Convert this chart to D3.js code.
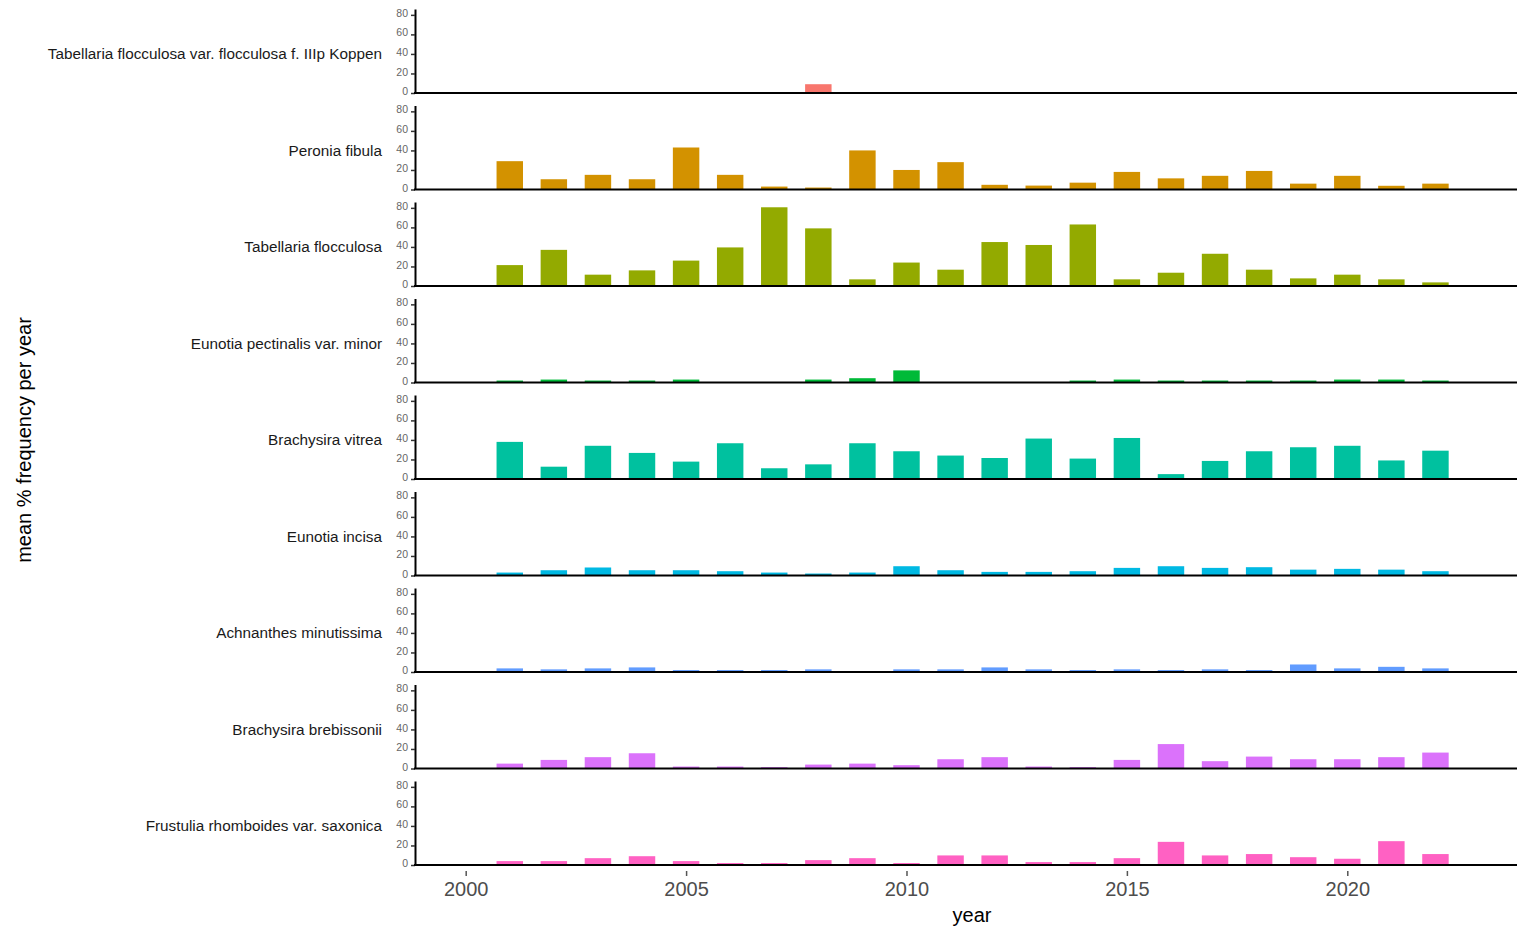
<!DOCTYPE html>
<html>
<head>
<meta charset="utf-8">
<script src="https://cdn.jsdelivr.net/npm/d3@7"></script>
<style>
  body { margin: 0; background: #fff; }
  svg { font-family: Arial, "Liberation Sans", sans-serif; }
  .panel .domain { stroke: #000; stroke-width: 2; }
  .panel .tick line { stroke: #333; stroke-width: 1.5; }
  .panel .tick text { fill: #666; font-size: 10.5px; }
  .x-axis .tick line { stroke: #555; stroke-width: 1.5; }
  .x-axis .tick text { fill: #4d4d4d; font-size: 20px; }
</style>
</head>
<body>
<div id="chart"></div>
<script>
const width = 1517;
const height = 928;

// categories
const years = [2001, 2002, 2003, 2004, 2005, 2006, 2007, 2008, 2009, 2010, 2011,
               2012, 2013, 2014, 2015, 2016, 2017, 2018, 2019, 2020, 2021, 2022];

const species = [
  'Tabellaria flocculosa var. flocculosa f. IIIp Koppen',
  'Peronia fibula',
  'Tabellaria flocculosa',
  'Eunotia pectinalis var. minor',
  'Brachysira vitrea',
  'Eunotia incisa',
  'Achnanthes minutissima',
  'Brachysira brebissonii',
  'Frustulia rhomboides var. saxonica'
];

const colors = ['#F8766D', '#D39200', '#93AA00', '#00BA38', '#00C19F',
                '#00B9E3', '#619CFF', '#DB72FB', '#FF61C3'];

// mean % frequency per year, one value per entry of `years` (null = no bar)
const tabellariaKoppen = [null, null, null, null, null, null, null, 9, null, null, null,
                          null, null, null, null, null, null, null, null, null, null, null];
const peroniaFibula = [29, 10.5, 15, 10.5, 43, 15, 3, 2, 40, 20, 28,
                       4.8, 4, 7, 18, 11.4, 14, 19, 6, 14, 3.8, 6];
const tabellariaFlocculosa = [21.4, 37, 11.6, 16, 26, 39.5, 80.6, 59, 6.8, 24, 16.7,
                              45, 42, 63, 6.8, 13.6, 33, 16.7, 7.8, 11.6, 6.8, 3.7];
const eunotiaPectinalis = [2, 3, 2, 2, 3, null, null, 3, 4.4, 12.4, null,
                           null, null, 2, 3, 2, 2, 2, 2, 3, 3, 2];
const brachysiraVitrea = [38, 12.6, 34, 26.7, 17.8, 36.6, 11, 15, 36.6, 28.4, 24,
                          21.5, 41.4, 20.9, 42, 5, 18.5, 28.4, 32.5, 34, 19, 29];
const eunotiaIncisa = [3, 5.4, 8.2, 5.4, 5.4, 4.4, 3, 2, 3, 9.5, 5.4,
                       3.7, 3.7, 4.4, 7.8, 9.5, 7.8, 8.5, 6, 6.8, 6, 4.4];
const achnanthesMinutissima = [3.7, 2.7, 3.7, 4.7, 2, 2, 2, 2.7, null, 2.7, 2.7,
                               4.7, 2.7, 2, 2.7, 2, 2.7, 2, 7.7, 3.7, 5.3, 3.7];
const brachysiraBrebissonii = [5, 8.8, 11.6, 15.6, 2, 2, 1.4, 4, 5, 3.4, 9.5,
                               11.6, 2, 1.4, 8.8, 25, 7.5, 12.2, 9.5, 9.5, 11.6, 16.3];
const frustuliaSaxonica = [4, 4, 7, 9, 4, 2, 2, 5, 7, 2, 9.8,
                           9.8, 3, 3, 7, 23.7, 9.8, 11.2, 8, 6.4, 24.4, 11.2];

const seriesValues = [tabellariaKoppen, peroniaFibula, tabellariaFlocculosa, eunotiaPectinalis,
                      brachysiraVitrea, eunotiaIncisa, achnanthesMinutissima,
                      brachysiraBrebissonii, frustuliaSaxonica];

const yTicks = [0, 20, 40, 60, 80];
const xTicks = [2000, 2005, 2010, 2015, 2020];

const svg = d3.select('#chart')
  .append('svg')
  .attr('width', width)
  .attr('height', height);

// shared x scale (years), bars are 0.6 year wide
const xscale = d3.scaleLinear().domain([1998.85, 2023.85]).range([415, 1517]);
const barWidth = xscale(2000.6) - xscale(2000);

// baseline of each stacked panel
const panelBase = d3.scaleLinear().domain([0, species.length - 1]).range([93, 865]);

species.forEach((name, i) => {
  const base = panelBase(i);
  const yscale = d3.scaleLinear().domain([0, 86]).range([base, base - 84]);
  const g = svg.append('g').attr('class', 'panel');

  const bars = years.map((yr, j) => ({year: yr, value: seriesValues[i][j]}))
    .filter(d => d.value != null);

  g.selectAll('rect')
    .data(bars)
    .enter()
    .append('rect')
    .attr('x', d => xscale(d.year) - barWidth / 2)
    .attr('y', d => yscale(d.value))
    .attr('width', barWidth)
    .attr('height', d => base - yscale(d.value))
    .attr('fill', colors[i]);

  // y axis, labels sit a touch above their ticks
  const yaxis = g.append('g')
    .attr('transform', 'translate(415,0)')
    .call(d3.axisLeft(yscale).tickValues(yTicks).tickSize(4).tickSizeOuter(0).tickPadding(3));
  yaxis.selectAll('.tick text').attr('dy', '0.15em');

  // baseline
  g.append('line')
    .attr('x1', 414).attr('x2', width)
    .attr('y1', base).attr('y2', base)
    .attr('stroke', '#000').attr('stroke-width', 2);

  // species label, centred on the panel
  g.append('text')
    .attr('x', 382)
    .attr('y', yscale(40))
    .attr('dy', '0.35em')
    .attr('text-anchor', 'end')
    .attr('font-size', 15.3)
    .attr('fill', '#1a1a1a')
    .text(name);
});

// x axis under the last panel
const xaxis = svg.append('g')
  .attr('class', 'x-axis')
  .attr('transform', 'translate(0,' + (panelBase(species.length - 1) + 6) + ')')
  .call(d3.axisBottom(xscale).tickValues(xTicks).tickFormat(d3.format('d')).tickSize(5).tickPadding(6));
xaxis.select('.domain').remove();

// axis titles
svg.append('text')
  .attr('x', 972)
  .attr('y', 922)
  .attr('text-anchor', 'middle')
  .attr('font-size', 20)
  .attr('fill', '#000')
  .text('year');

svg.append('text')
  .attr('transform', 'translate(31,440) rotate(-90)')
  .attr('text-anchor', 'middle')
  .attr('font-size', 20)
  .attr('fill', '#000')
  .text('mean % frequency per year');
</script>
</body>
</html>
